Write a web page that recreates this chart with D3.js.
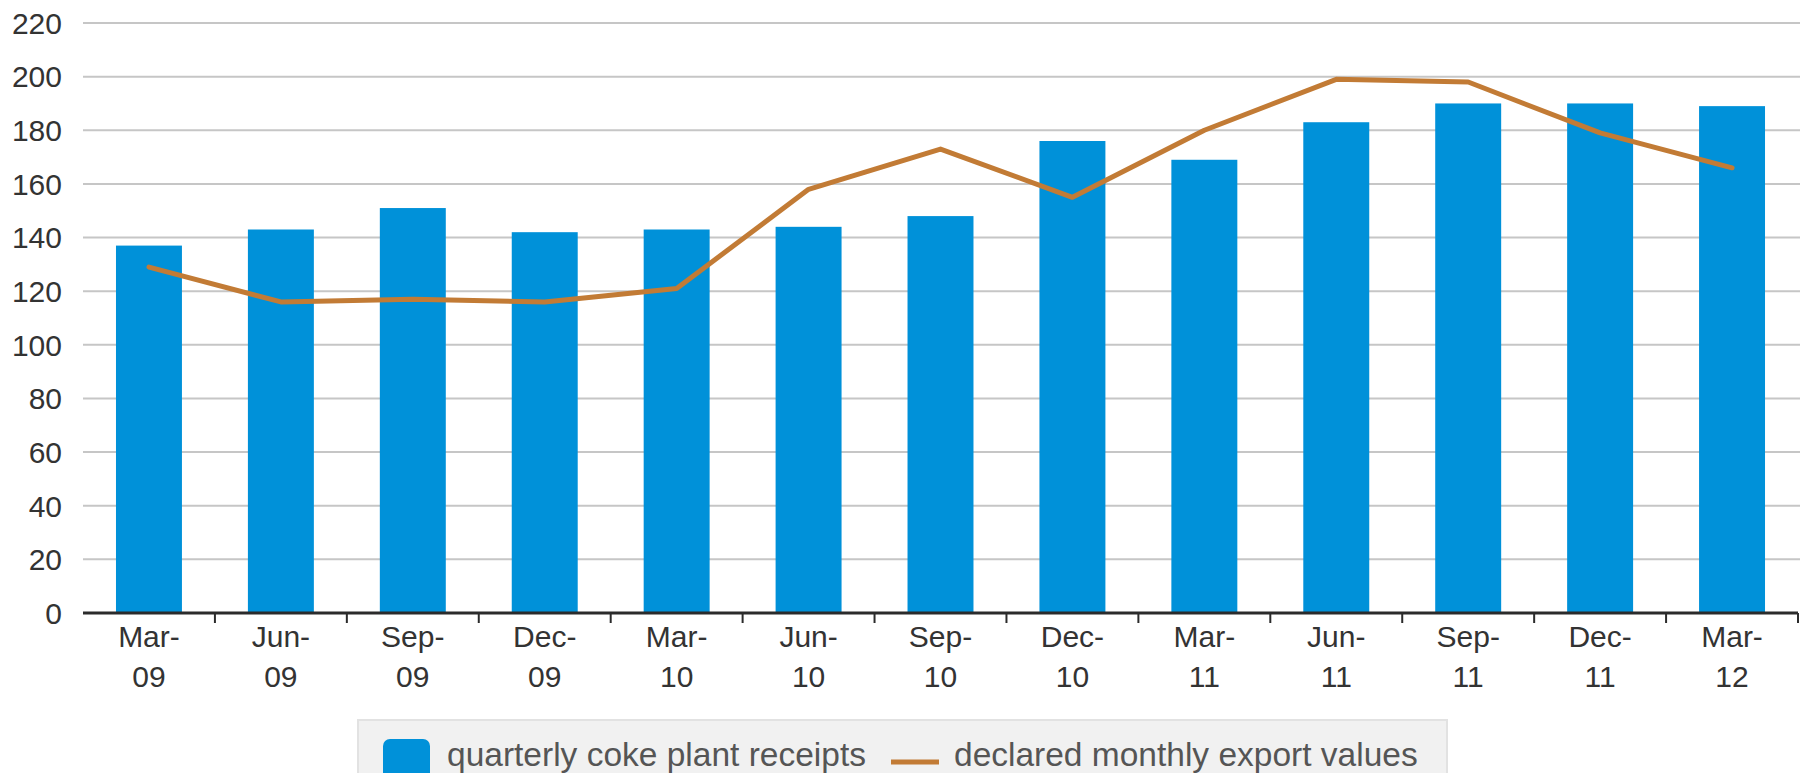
<!DOCTYPE html>
<html>
<head>
<meta charset="utf-8">
<script src="https://cdn.jsdelivr.net/npm/d3@7"></script>
<style>
  html, body { margin: 0; padding: 0; background: #fff; }
  svg text { font-family: "Liberation Sans", Arial, sans-serif; }
</style>
</head>
<body>
<div id="chart"></div>
<script>
// Quarter labels, split on two lines
const quarters = ['Mar-09', 'Jun-09', 'Sep-09', 'Dec-09', 'Mar-10', 'Jun-10', 'Sep-10',
                  'Dec-10', 'Mar-11', 'Jun-11', 'Sep-11', 'Dec-11', 'Mar-12'];
// quarterly coke plant receipts (bars)
const receipts = [137, 143, 151, 142, 143, 144, 148, 176, 169, 183, 190, 190, 189];
// declared monthly export values (line)
const exportValues = [129, 116, 117, 116, 121, 158, 173, 155, 180, 199, 198, 179, 166];
const yTicks = [0, 20, 40, 60, 80, 100, 120, 140, 160, 180, 200, 220];
const legendLabels = ['quarterly coke plant receipts', 'declared monthly export values'];

const width = 1808, height = 773;
const margin = { top: 23, right: 10, bottom: 160, left: 83 };
const barColor = '#0091d9';
const lineColor = '#c27b35';

const svg = d3.select('#chart')
    .append('svg')
    .attr('width', width)
    .attr('height', height);

const x = d3.scaleBand()
    .domain(quarters)
    .range([margin.left, 1798])
    .paddingInner(0.5)
    .paddingOuter(0.25);

const y = d3.scaleLinear()
    .domain([0, 220])
    .range([613, margin.top]);

// Gridlines
svg.append('g')
    .selectAll('line')
    .data(yTicks.filter(d => d > 0))
    .join('line')
    .attr('x1', margin.left)
    .attr('x2', 1800)
    .attr('y1', d => y(d))
    .attr('y2', d => y(d))
    .attr('stroke', '#c6c6c6')
    .attr('stroke-width', 2);

// Y axis labels
svg.append('g')
    .selectAll('text')
    .data(yTicks)
    .join('text')
    .attr('x', 62)
    .attr('y', d => y(d))
    .attr('dy', '0.36em')
    .attr('text-anchor', 'end')
    .attr('font-size', 30)
    .attr('fill', '#333')
    .text(d => d);

// Bars
svg.append('g')
    .selectAll('rect')
    .data(receipts)
    .join('rect')
    .attr('x', (d, i) => x(quarters[i]))
    .attr('width', x.bandwidth())
    .attr('y', d => y(d))
    .attr('height', d => y(0) - y(d))
    .attr('fill', barColor);

// X axis line and ticks between categories
const step = x.step();
const axis = svg.append('g');
axis.append('line')
    .attr('x1', margin.left)
    .attr('x2', 1798)
    .attr('y1', y(0))
    .attr('y2', y(0))
    .attr('stroke', '#2b2b2b')
    .attr('stroke-width', 3);

const tickPos = d3.range(quarters.length + 1).map(i => x(quarters[0]) - step * 0.25 + i * step);
axis.selectAll('line.tick')
    .data(tickPos.slice(1))
    .join('line')
    .attr('class', 'tick')
    .attr('x1', d => d)
    .attr('x2', d => d)
    .attr('y1', y(0))
    .attr('y2', y(0) + 10)
    .attr('stroke', '#2b2b2b')
    .attr('stroke-width', 2);

// X labels (two lines)
const xl = axis.selectAll('text')
    .data(quarters)
    .join('text')
    .attr('x', d => x(d) + x.bandwidth() / 2)
    .attr('y', 647)
    .attr('text-anchor', 'middle')
    .attr('font-size', 30)
    .attr('fill', '#333');
xl.append('tspan')
    .attr('x', d => x(d) + x.bandwidth() / 2)
    .text(d => d.split('-')[0] + '-');
xl.append('tspan')
    .attr('x', d => x(d) + x.bandwidth() / 2)
    .attr('dy', 40)
    .text(d => d.split('-')[1]);

// Export value line
const line = d3.line()
    .x((d, i) => x(quarters[i]) + x.bandwidth() / 2)
    .y(d => y(d));

svg.append('path')
    .datum(exportValues)
    .attr('d', line)
    .attr('fill', 'none')
    .attr('stroke', lineColor)
    .attr('stroke-width', 5)
    .attr('stroke-linejoin', 'round')
    .attr('stroke-linecap', 'round');

// Legend
const legend = svg.append('g');
legend.append('rect')
    .attr('x', 358)
    .attr('y', 720)
    .attr('width', 1089)
    .attr('height', 70)
    .attr('fill', '#f1f1f1')
    .attr('stroke', '#e2e2e2')
    .attr('stroke-width', 2);

legend.append('rect')
    .attr('x', 383)
    .attr('y', 739)
    .attr('width', 47)
    .attr('height', 50)
    .attr('rx', 7)
    .attr('fill', barColor);

legend.append('text')
    .attr('x', 447)
    .attr('y', 766)
    .attr('font-size', 33.5)
    .attr('fill', '#555')
    .text(legendLabels[0]);

legend.append('line')
    .attr('x1', 891)
    .attr('x2', 939)
    .attr('y1', 762)
    .attr('y2', 762)
    .attr('stroke', lineColor)
    .attr('stroke-width', 5);

legend.append('text')
    .attr('x', 954)
    .attr('y', 766)
    .attr('font-size', 33.5)
    .attr('fill', '#555')
    .text(legendLabels[1]);
</script>
</body>
</html>
